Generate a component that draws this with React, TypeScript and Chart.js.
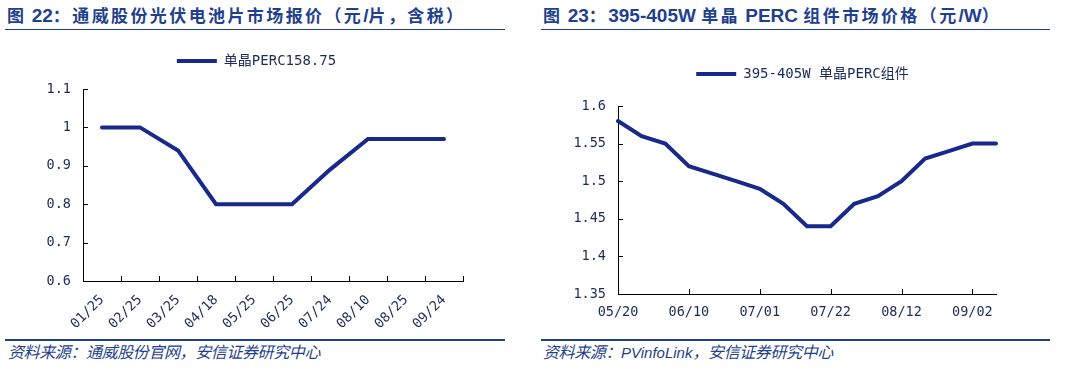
import React, { useEffect, useRef } from 'react';
import { Chart, registerables } from 'chart.js';

Chart.register(...registerables);

// ---------- Data ----------
const leftCategories = ['01/25', '02/25', '03/25', '04/18', '05/25', '06/25', '07/24', '08/10', '08/25', '09/24'];
const leftValues = [1, 1, 0.94, 0.8, 0.8, 0.8, 0.89, 0.97, 0.97, 0.97];
const leftSeriesName = '单晶PERC158.75';
const leftYRange = [0.6, 1.1, 0.1];

const rightDates = ['05/20', '05/27', '06/03', '06/10', '06/17', '06/24', '07/01', '07/08', '07/15', '07/22', '07/29', '08/05', '08/12', '08/19', '08/26', '09/02', '09/09'];
const rightValues = [1.58, 1.56, 1.55, 1.52, 1.51, 1.5, 1.49, 1.47, 1.44, 1.44, 1.47, 1.48, 1.5, 1.53, 1.54, 1.55, 1.55];
const rightSeriesName = '395-405W 单晶PERC组件';
const rightYRange = [1.35, 1.6, 0.05];
const rightLabelEvery = 3;

const leftTitle = '图 22：通威股份光伏电池片市场报价（元/片，含税）';
const rightTitle = '图 23：395-405W 单晶 PERC 组件市场价格（元/W）';
const leftSource = '资料来源：通威股份官网，安信证券研究中心';
const rightSource = '资料来源：PVinfoLink，安信证券研究中心';

// ---------- Styles ----------
const LINE_COLOR = '#18298c';
const TEXT_BLUE = '#1f3f8f';
const TICK_COLOR = '#1c2a5c';
const MONO = '"DejaVu Sans Mono", "Noto Sans CJK SC", monospace';
const CANVAS_W = 535;
const CANVAS_H = 300;

const innerTicks = {
  id: 'innerTicks',
  beforeDatasetsDraw(chart: any, _args: any, opts: any) {
    const { ctx } = chart;
    const x = chart.scales.x;
    const y = chart.scales.y;
    const len = 5;
    ctx.save();
    ctx.strokeStyle = '#000';
    ctx.lineWidth = 1;
    ctx.beginPath();
    y.ticks.forEach((_t: any, i: number) => {
      const py = Math.round(y.getPixelForTick(i)) + 0.5;
      ctx.moveTo(x.left, py);
      ctx.lineTo(x.left + len, py);
    });
    const n = chart.data.labels.length;
    if (opts.mode === 'boundaries') {
      for (let i = 0; i <= n; i++) {
        const px = Math.round(x.left + (x.width * i) / n) + 0.5;
        ctx.moveTo(px, y.bottom);
        ctx.lineTo(px, y.bottom - len);
      }
    } else {
      for (let i = 0; i < n; i += opts.every) {
        const px = Math.round(x.getPixelForValue(i)) + 0.5;
        ctx.moveTo(px, y.bottom);
        ctx.lineTo(px, y.bottom - len);
      }
    }
    ctx.stroke();
    ctx.restore();
  },
};

const legendSpacer = {
  id: 'legendSpacer',
  afterInit(chart: any, _args: any, opts: any) {
    const legend = chart.legend;
    if (!legend) return;
    const orig = legend.fit;
    legend.fit = function () {
      orig.call(this);
      this.height += opts.extra || 0;
    };
  },
  afterLayout(chart: any, _args: any, opts: any) {
    const legend = chart.legend;
    if (!legend || !opts.dx) return;
    legend.left += opts.dx;
    legend.right += opts.dx;
  },
};

function fmt(v: any) {
  return String(+Number(v).toFixed(2));
}

interface CfgProps {
  labels: string[];
  values: number[];
  name: string;
  yRange: number[];
  rotated: boolean;
  every: number;
  padTop: number;
  padRight: number;
  extra: number;
  dx: number;
  xHeight: number;
}

function LineChart(p: CfgProps) {
  const ref = useRef<HTMLCanvasElement>(null);
  useEffect(() => {
    if (!ref.current) return;
    const chart = new Chart(ref.current, {
      type: 'line',
      data: {
        labels: p.labels,
        datasets: [
          {
            label: p.name,
            data: p.values,
            borderColor: LINE_COLOR,
            backgroundColor: LINE_COLOR,
            borderWidth: 4,
            borderCapStyle: 'round',
            pointRadius: 0,
            tension: 0,
            fill: false,
          },
        ],
      },
      plugins: [innerTicks, legendSpacer],
      options: {
        responsive: false,
        animation: false,
        devicePixelRatio: 1,
        layout: { padding: { top: p.padTop, right: p.padRight, left: 0, bottom: 0 } },
        plugins: {
          legend: {
            display: true,
            position: 'top',
            labels: {
              usePointStyle: true,
              pointStyle: 'line',
              pointStyleWidth: 40,
              padding: 10,
              color: TICK_COLOR,
              font: { family: MONO, size: 14 },
            },
          },
          tooltip: { enabled: false },
          innerTicks: { mode: p.rotated ? 'boundaries' : 'points', every: p.every },
          legendSpacer: { extra: p.extra, dx: p.dx },
        } as any,
        scales: {
          x: {
            type: 'category',
            offset: p.rotated,
            grid: { display: true, drawOnChartArea: false, drawTicks: false },
            border: { display: true, color: '#000', width: 1 },
            ticks: {
              autoSkip: false,
              minRotation: p.rotated ? 45 : 0,
              maxRotation: p.rotated ? 45 : 0,
              padding: p.rotated ? 11 : 10,
              color: TICK_COLOR,
              font: { family: MONO, size: 13.5 },
              callback: (_v: any, i: number) => (i % p.every === 0 ? p.labels[i] : ''),
            },
            afterFit: (s: any) => {
              s.height = p.xHeight;
            },
          },
          y: {
            min: p.yRange[0],
            max: p.yRange[1],
            grid: { display: true, drawOnChartArea: false, drawTicks: false },
            border: { display: true, color: '#000', width: 1 },
            ticks: {
              stepSize: p.yRange[2],
              padding: 12,
              color: TICK_COLOR,
              font: { family: MONO, size: 13.5 },
              callback: (v: any) => fmt(v),
            },
            afterFit: (s: any) => {
              s.width = 83;
            },
          },
        },
      } as any,
    });
    return () => chart.destroy();
  }, []);
  return <canvas ref={ref} width={CANVAS_W} height={CANVAS_H} style={{ width: CANVAS_W, height: CANVAS_H, display: 'block' }} />;
}

// Split text into ASCII / non-ASCII runs so Latin and CJK can be styled separately
function Runs({ text, latin, cjk }: { text: string; latin: React.CSSProperties; cjk: React.CSSProperties }) {
  const parts = text.split(/([\x00-\x7F]+)/).filter((s) => s.length > 0);
  return (
    <>
      {parts.map((s, i) => (
        <span key={i} style={/^[\x00-\x7F]+$/.test(s) ? latin : cjk}>
          {s}
        </span>
      ))}
    </>
  );
}

const titleBox: React.CSSProperties = {
  position: 'absolute',
  top: 4,
  whiteSpace: 'nowrap',
  fontFamily: '"Liberation Sans", "Noto Sans CJK SC", sans-serif',
  fontWeight: 'bold',
  color: TEXT_BLUE,
  lineHeight: '24px',
};
const titleLatin: React.CSSProperties = { fontSize: 19, letterSpacing: 0 };
const titleCjk: React.CSSProperties = { fontSize: 17, letterSpacing: 2.4 };

const sourceBox: React.CSSProperties = {
  position: 'absolute',
  top: 343,
  whiteSpace: 'nowrap',
  fontFamily: '"Liberation Sans", "Noto Sans CJK SC", sans-serif',
  fontStyle: 'italic',
  color: TEXT_BLUE,
  lineHeight: '20px',
};
const srcLatin: React.CSSProperties = { fontSize: 15, letterSpacing: 0 };
const srcCjk: React.CSSProperties = { fontSize: 16, letterSpacing: -0.4 };

export default function App() {
  return (
    <div style={{ position: 'absolute', left: 0, top: 0, width: 1070, height: 372, background: '#fff', overflow: 'hidden' }}>
      <div style={{ ...titleBox, left: 7 }}>
        <Runs text={leftTitle} latin={titleLatin} cjk={titleCjk} />
      </div>
      <div style={{ ...titleBox, left: 543 }}>
        <Runs text={rightTitle} latin={titleLatin} cjk={titleCjk} />
      </div>
      <div style={{ position: 'absolute', left: 5, top: 29, width: 500, height: 1, background: TEXT_BLUE }} />
      <div style={{ position: 'absolute', left: 541, top: 29, width: 509, height: 1, background: TEXT_BLUE }} />

      <div style={{ position: 'absolute', left: 0, top: 40 }}>
        <LineChart labels={leftCategories} values={leftValues} name={leftSeriesName} yRange={leftYRange} rotated={true} every={1} padTop={4} padRight={72} extra={11} dx={25} xHeight={59} />
      </div>
      <div style={{ position: 'absolute', left: 535, top: 40 }}>
        <LineChart labels={rightDates} values={rightValues} name={rightSeriesName} yRange={rightYRange} rotated={false} every={rightLabelEvery} padTop={17} padRight={74} extra={15} dx={37} xHeight={46} />
      </div>

      <div style={{ position: 'absolute', left: 5, top: 339, width: 500, height: 2, background: TEXT_BLUE }} />
      <div style={{ position: 'absolute', left: 541, top: 339, width: 509, height: 2, background: TEXT_BLUE }} />
      <div style={{ ...sourceBox, left: 8 }}>
        <Runs text={leftSource} latin={srcLatin} cjk={srcCjk} />
      </div>
      <div style={{ ...sourceBox, left: 543 }}>
        <Runs text={rightSource} latin={srcLatin} cjk={srcCjk} />
      </div>
    </div>
  );
}
